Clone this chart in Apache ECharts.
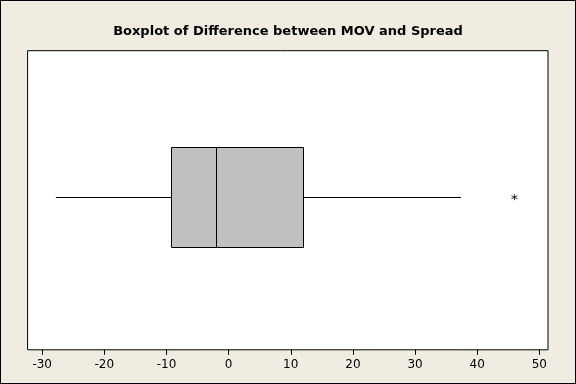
<!DOCTYPE html>
<html><head><meta charset="utf-8">
<script src="https://cdn.jsdelivr.net/npm/echarts@6/dist/echarts.min.js"></script>
<style>html,body{margin:0;padding:0;background:#F0ECE1;}#c{width:574px;height:382px;border:1px solid #000;}</style>
</head><body><div id="c"></div>
<script>
const title = "Boxplot of Difference between MOV and Spread";
const boxStats = [-27.8, -9.2, -2.0, 12.0, 37.4]; // whisker low, Q1, median, Q3, whisker high
const outliers = [46.0];
const tickValues = [-30, -20, -10, 0, 10, 20, 30, 40, 50];

const chart = echarts.init(document.getElementById('c'), null, {renderer: 'canvas'});
chart.setOption({
  backgroundColor: '#F0ECE1',
  animation: false,
  title: {
    text: title, left: 'center', top: 19,
    textStyle: {fontFamily: 'DejaVu Sans', fontWeight: 'bold', fontSize: 13, color: '#000'}
  },
  grid: {left: 26.6, right: 27, top: 49.7, bottom: 33.2, show: true, backgroundColor: '#fff', borderColor: '#000', borderWidth: 1},
  xAxis: {
    type: 'value', min: -32.35, max: 51.4,
    splitLine: {show: false},
    axisLine: {show: false},
    axisTick: {show: true, length: 5, lineStyle: {color: '#000'}, customValues: tickValues},
    axisLabel: {show: true, color: '#000', fontFamily: 'DejaVu Sans', fontSize: 12, margin: 9, customValues: tickValues}
  },
  yAxis: {type: 'value', min: 0, max: 1, show: false},
  series: [
    {
      type: 'custom',
      data: [boxStats],
      renderItem: function (params, api) {
        const lo = api.coord([api.value(0), 0.51]);
        const q1 = api.coord([api.value(1), 0.51]);
        const md = api.coord([api.value(2), 0.51]);
        const q3 = api.coord([api.value(3), 0.51]);
        const hi = api.coord([api.value(4), 0.51]);
        const half = 50;
        const y = Math.round(lo[1]) + 0.5;
        const st = {stroke: '#000', lineWidth: 1};
        return {type: 'group', children: [
          {type: 'line', shape: {x1: lo[0], y1: y, x2: q1[0], y2: y}, style: st},
          {type: 'line', shape: {x1: q3[0], y1: y, x2: hi[0], y2: y}, style: st},
          {type: 'rect', shape: {x: Math.round(q1[0]) + 0.5, y: y - half, width: Math.round(q3[0] - q1[0]), height: 2 * half}, style: {fill: '#C0C0C0', stroke: '#000', lineWidth: 1}},
          {type: 'line', shape: {x1: Math.round(md[0]) + 0.5, y1: y - half, x2: Math.round(md[0]) + 0.5, y2: y + half}, style: st}
        ]};
      }
    },
    {
      type: 'scatter',
      data: outliers.map(v => [v, 0.51]),
      symbol: 'path://M0,-1L0,1M-0.87,-0.5L0.87,0.5M-0.87,0.5L0.87,-0.5',
      symbolSize: 6,
      itemStyle: {color: 'none', borderColor: '#000', borderWidth: 1}
    }
  ]
});
</script></body></html>
